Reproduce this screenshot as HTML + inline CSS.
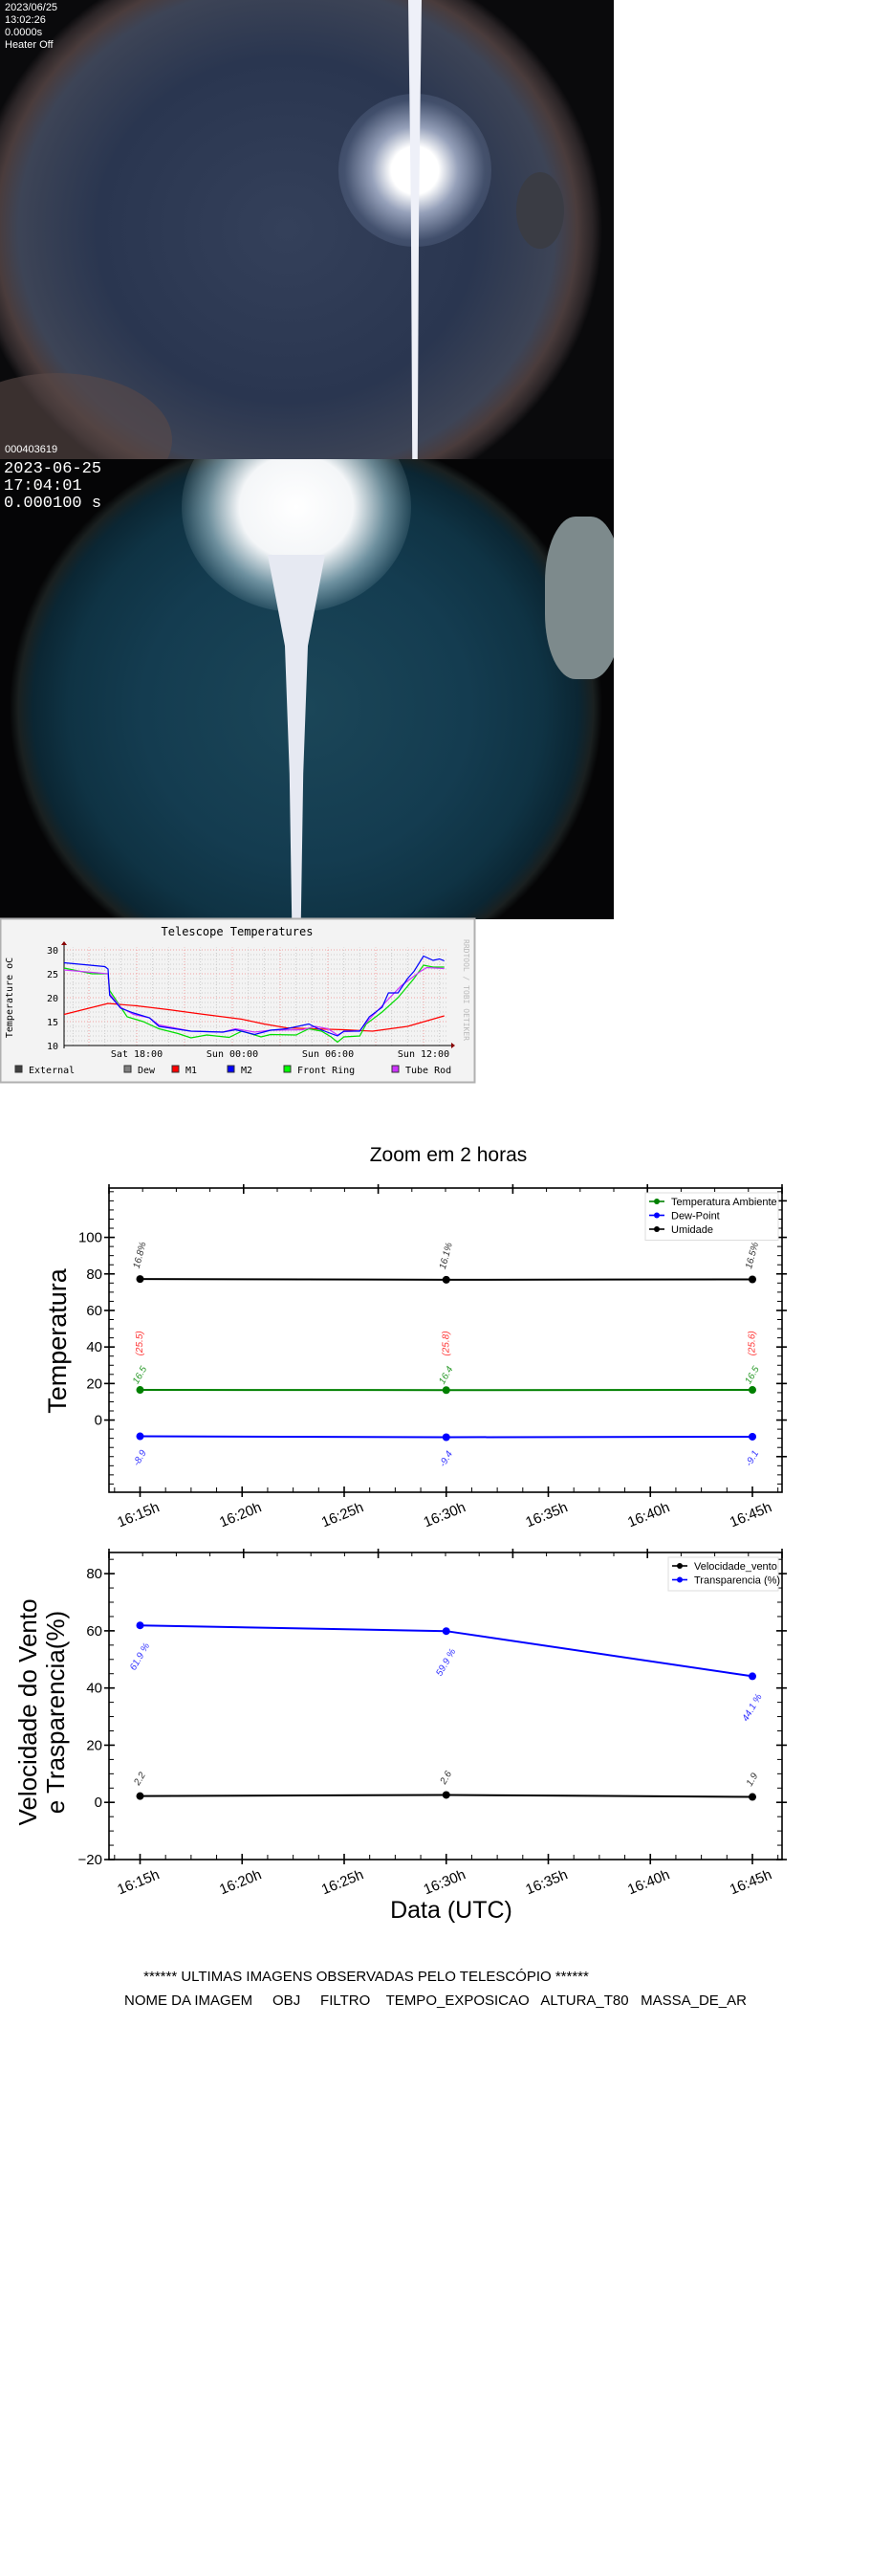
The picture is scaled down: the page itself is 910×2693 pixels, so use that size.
<!DOCTYPE html>
<html><head><meta charset="utf-8">
<style>
body{margin:0;background:#fff;width:910px;height:2693px;position:relative;overflow:hidden;font-family:"Liberation Sans",sans-serif}
.abs{position:absolute}
.photo{position:absolute;left:0;width:642px;height:480px;overflow:hidden;background:#000}
.ovl{position:absolute;color:#fff}
</style></head>
<body>
<div class="photo" style="top:0;background:radial-gradient(ellipse 330px 300px at 300px 240px,#34405a 0%,#2a3650 60%,#3d4456 85%,#4a3c3c 92%,#2a2426 97%,#0a0a0c 100%)">
  <div class="abs" style="left:-60px;top:390px;width:240px;height:140px;border-radius:50%;background:#5a4a48;opacity:.6"></div>
  <div class="abs" style="left:354px;top:98px;width:160px;height:160px;border-radius:50%;background:radial-gradient(circle,#fff 0%,#fff 22%,rgba(220,230,255,.6) 40%,rgba(150,170,210,.2) 65%,rgba(0,0,0,0) 100%)"></div>
  <div class="abs" style="left:427px;top:0;width:14px;height:480px;background:#eef0f8;clip-path:polygon(0 0,100% 0,80% 45%,70% 100%,30% 100%,20% 45%)"></div>
  <div class="abs" style="left:540px;top:180px;width:50px;height:80px;border-radius:50%;background:#3a3c44"></div>
  <div class="ovl" style="left:5px;top:2px;font-size:11px;line-height:13px">2023/06/25<br>13:02:26<br>0.0000s<br>Heater Off</div>
  <div class="ovl" style="left:5px;top:464px;font-size:11px">000403619</div>
</div>
<div class="photo" style="top:480px;height:481px;background:radial-gradient(ellipse 310px 290px at 320px 260px,#1b4658 0%,#143c50 55%,#0f3344 80%,#0b2633 92%,#1a2020 97%,#050506 100%)">
  <div class="abs" style="left:190px;top:-60px;width:240px;height:220px;border-radius:50%;background:radial-gradient(ellipse,#fff 0%,#f4f6f8 35%,rgba(200,230,240,.5) 55%,rgba(0,0,0,0) 75%)"></div>
  <div class="abs" style="left:280px;top:100px;width:60px;height:381px;background:#e6e9f2;clip-path:polygon(0 0,100% 0,70% 25%,62% 60%,58% 100%,42% 100%,38% 60%,30% 25%)"></div>
  <div class="abs" style="left:570px;top:60px;width:80px;height:170px;border-radius:40%;background:#7d8a8c"></div>
  <div class="ovl" style="left:4px;top:2px;font-family:'Liberation Mono',monospace;font-size:17px;line-height:18px">2023-06-25<br>17:04:01<br>0.000100 s</div>
</div>

<svg id="svg" width="910" height="2693" style="position:absolute;left:0;top:0" xmlns="http://www.w3.org/2000/svg"></svg>

<div class="abs" style="left:0;width:766px;top:2058px;text-align:center;font-size:15px">****** ULTIMAS IMAGENS OBSERVADAS PELO TELESCÓPIO ******</div>
<div class="abs" style="left:130px;top:2083px;font-size:15px;white-space:pre">NOME DA IMAGEM     OBJ     FILTRO    TEMPO_EXPOSICAO   ALTURA_T80   MASSA_DE_AR</div>

<script>
// ---- Telescope temperatures data (hours since Sat 12:00, value) ----
const m1H=[1.44,4.2,6,8,10,12.6,14,15.4,17,19,20.8,23,25.3];
const m1V=[16.5,18.8,18.3,17.5,16.6,15.5,14.5,13.7,13.5,13.3,13.0,14.0,16.2];
const m2H=[1.44,4.0,4.2,4.3,5.0,5.8,6.8,7.4,9.4,11.4,12.2,13.4,14.4,15.4,16.8,17.4,18.6,19,20,20.6,21.4,21.8,22.4,23,23.4,24,24.6,25,25.3];
const m2V=[27.3,26.5,26.0,20.5,17.8,16.8,15.8,14.0,13.0,12.8,13.3,12.3,13.2,13.5,14.5,13.5,12.0,13.0,13.0,16,18,21,21,24,25.5,28.7,27.8,28.1,27.7];
const frH=[1.44,3.2,4.2,4.3,5.4,6.4,7.4,8.6,9.4,10.4,11.8,12.6,13.8,14.4,16,16.8,17.6,18.2,18.6,19,20,20.4,21.4,22.4,23.4,24,24.6,25.3];
const frV=[26.2,25,25,21.5,16,15,13.5,12.5,11.6,12.2,11.7,13,11.8,12.3,12.2,13.5,13,11.8,10.7,11.8,12,14.5,17,20,24,26.8,26.4,26.4];
const trH=[1.44,4.2,4.3,5.0,5.8,6.8,7.4,9.4,11.4,12.2,13.4,14.4,16.4,17.2,18,18.6,19,20,20.6,21.6,22.6,23.8,24.2,25.3];
const trV=[25.8,25,20.8,18,16.5,15.8,14.3,13.0,12.8,13.5,12.8,13.2,13.3,14,13.5,12.2,12.9,13.1,15.5,19,22.5,25.5,26.3,26.1];
const rrdYTicks=[10,15,20,25,30];
const rrdXTicks=[6,12,18,24];
const rrdXLabels=["Sat 18:00","Sun 00:00","Sun 06:00","Sun 12:00"];
const rrdLegend=["External","Dew","M1","M2","Front Ring","Tube Rod"];
const rrdLegendColors=["#404040","#808080","#ff0000","#0000ff","#00ff00","#cc33ff"];

// ---- Chart 1 data ----
const times=[0,15,30];
const xTickMin=[0,5,10,15,20,25,30];
const xTickLabels=["16:15h","16:20h","16:25h","16:30h","16:35h","16:40h","16:45h"];
const umid=[77.2,76.8,77.0];
const umidLabels=["16.8%","16.1%","16.5%"];
const tempAmb=[16.5,16.4,16.5];
const tempLabels=["16.5","16.4","16.5"];
const tempRedLabels=["(25.5)","(25.8)","(25.6)"];
const dew=[-8.9,-9.4,-9.1];
const dewLabels=["-8.9","-9.4","-9.1"];
const y1Ticks=[0,20,40,60,80,100];
// ---- Chart 2 data ----
const transp=[61.9,59.9,44.1];
const transpLabels=["61.9 %","59.9 %","44.1 %"];
const vento=[2.2,2.6,1.9];
const ventoLabels=["2.2","2.6","1.9"];
const y2Ticks=[-20,0,20,40,60,80];

const NS="http://www.w3.org/2000/svg";
const svg=document.getElementById('svg');
function mk(tag,attrs,parent){const e=document.createElementNS(NS,tag);for(const k in attrs)e.setAttribute(k,attrs[k]);(parent||svg).appendChild(e);return e;}
function txt(s,attrs,parent){const e=mk('text',attrs,parent);e.textContent=s;return e;}

// ===== RRD chart =====
(function(){
 const g=mk('g',{});
 
 
 const bg=mk('rect',{x:0.5,y:960.5,width:496,height:171,fill:'#f3f3f3',stroke:'#b0b0b0','stroke-width':2},g);
 
 
 const X=h=>67+(h-1.44)*16.667, Y=v=>1093-(v-10)*5;
 const t=txt('Telescope Temperatures',{x:248,y:978,'text-anchor':'middle','font-family':'DejaVu Sans Mono,Liberation Mono,monospace','font-size':12},g);
 
 
 for(let v=10;v<=30;v++){mk('line',{x1:67,x2:468,y1:Y(v),y2:Y(v),stroke:v%5?'#ccc':'#f0a0a0','stroke-dasharray':'1,2','stroke-width':1},g);}
 for(let h=2;h<=25;h++){const x=X(h);if(x<68)continue;mk('line',{x1:x,x2:x,y1:Y(10),y2:Y(30.5),stroke:h%3?'#ccc':'#f0a0a0','stroke-dasharray':'1,2'},g);}
 mk('line',{x1:67,x2:472,y1:Y(10),y2:Y(10),stroke:'#000'},g);
 mk('line',{x1:67,x2:67,y1:Y(10)+3,y2:987,stroke:'#000'},g);
 mk('polygon',{points:`472,${Y(10)-3} 476,${Y(10)} 472,${Y(10)+3}`,fill:'#800'},g);
 mk('polygon',{points:`64,988 67,984 70,988`,fill:'#800'},g);
 rrdYTicks.forEach(v=>{const e=txt(String(v),{x:61,y:Y(v)+4,'text-anchor':'end','font-family':'DejaVu Sans Mono,monospace','font-size':10},g);
  });
 rrdXTicks.forEach((h,i)=>{const e=txt(rrdXLabels[i],{x:X(h),y:1105,'text-anchor':'middle','font-family':'DejaVu Sans Mono,monospace','font-size':10},g);
  });
 const yl=txt('Temperature oC',{x:0,y:0,transform:'translate(13,1043) rotate(-90)','text-anchor':'middle','font-family':'DejaVu Sans Mono,monospace','font-size':10},g);
 
 const wm=txt('RRDTOOL / TOBI OETIKER',{x:0,y:0,transform:'translate(485,1035) rotate(90)','text-anchor':'middle','font-family':'DejaVu Sans Mono,monospace','font-size':8,fill:'#bbb'},g);
 
 function series(H,V,c,name){const p=H.map((h,i)=>X(h).toFixed(1)+','+Y(V[i]).toFixed(1)).join(' ');
  const e=mk('polyline',{points:p,fill:'none',stroke:c,'stroke-width':1.2},g);
  }
 series(m1H,m1V,'#ff0000','m1-line');
 series(frH,frV,'#00dd00','front-ring-line');
 series(trH,trV,'#cc33ff','tube-rod-line');
 series(m2H,m2V,'#0000ff','m2-line');
 const lx=[16,130,180,238,297,410];
 rrdLegend.forEach((n,i)=>{
  const r=mk('rect',{x:lx[i],y:1114,width:7,height:7,fill:rrdLegendColors[i],stroke:'#333'},g);
  
  const e=txt(n,{x:lx[i]+14,y:1122,'font-family':'DejaVu Sans Mono,monospace','font-size':10},g);
  });
})();

// ===== matplotlib-like charts =====
const PL=114,PR=818,X0=146.5,PX_PER_MIN=21.35;
function frame(g,T,B,ymin,ymax,yTicks,yMinorStep){
 const L=PL,R=PR;
 const X=m=>X0+m*PX_PER_MIN;
 const Y=v=>B-(v-ymin)/(ymax-ymin)*(B-T);
 mk('rect',{x:L,y:T,width:R-L,height:B-T,fill:'none',stroke:'#000','stroke-width':1.6},g);
 for(let i=0;i<=5;i++){const x=L+i*140.8;mk('line',{x1:x,x2:x,y1:T-4,y2:T+6,stroke:'#000','stroke-width':1.6},g);}
 for(let x=L+35.2;x<R-2;x+=35.2){mk('line',{x1:x,x2:x,y1:T,y2:T+4,stroke:'#000'},g);}
 xTickMin.forEach((m,i)=>{const x=X(m);mk('line',{x1:x,x2:x,y1:B-6,y2:B+5,stroke:'#000','stroke-width':1.6},g);
  const e=txt(xTickLabels[i],{x:0,y:0,transform:`translate(${x},${B+28}) rotate(-22)`,'text-anchor':'middle','font-size':15},g);
  });
 for(let m=-1.25;m<32;m+=1.25){const x=X(m);if(x<=L+2||x>=R-2)continue;mk('line',{x1:x,x2:x,y1:B-5,y2:B,stroke:'#000'},g);}
 yTicks.forEach(v=>{const y=Y(v);mk('line',{x1:L-5,x2:L+6,y1:y,y2:y,stroke:'#000','stroke-width':1.6},g);
  mk('line',{x1:R-6,x2:R+5,y1:y,y2:y,stroke:'#000','stroke-width':1.6},g);
  const e=txt(v<0?'−'+(-v):String(v),{x:L-7,y:y+5,'text-anchor':'end','font-size':15},g);
  });
 for(let v=Math.ceil(ymin/yMinorStep)*yMinorStep;v<ymax;v+=yMinorStep){const y=Y(v);
  mk('line',{x1:L,x2:L+5,y1:y,y2:y,stroke:'#000'},g);mk('line',{x1:R-5,x2:R,y1:y,y2:y,stroke:'#000'},g);}
 return {X,Y};
}
function line(g,X,Y,vals,c,name){
 const p=times.map((t,i)=>X(t)+','+Y(vals[i])).join(' ');
 const e=mk('polyline',{points:p,fill:'none',stroke:c,'stroke-width':2},g);
 
 times.forEach((t,i)=>{const d=mk('circle',{cx:X(t),cy:Y(vals[i]),r:4,fill:c},g);
  });
}
function labels(g,X,Y,vals,labs,off,rot,c,name){
 times.forEach((t,i)=>{const e=txt(labs[i],{x:0,y:0,transform:`translate(${X(t)},${Y(vals[i]+off)}) rotate(${rot})`,'text-anchor':'middle','dominant-baseline':'middle','font-size':10,'font-style':'italic',fill:c},g);
  });
}
function legend(g,x,y,w,items){
 mk('rect',{x:x,y:y,width:w,height:items.length*14.5+6,fill:'#fff',stroke:'#ddd'},g);
 items.forEach((it,i)=>{const yy=y+9+i*14.5;
  mk('line',{x1:x+4,x2:x+20,y1:yy,y2:yy,stroke:it[1],'stroke-width':1.6},g);
  mk('circle',{cx:x+12,cy:yy,r:3,fill:it[1]},g);
  const e=txt(it[0],{x:x+27,y:yy+4,'font-size':11},g);
  });
}

(function(){
 const g=mk('g',{});
 
 
 const t=txt('Zoom em 2 horas',{x:469,y:1214,'text-anchor':'middle','font-size':21},g);
 
 const {X,Y}=frame(g,1242,1560,-39.5,127,y1Ticks,5);
 [-20,120].forEach(v=>mk('line',{x1:PR-6,x2:PR+5,y1:Y(v),y2:Y(v),stroke:'#000','stroke-width':1.6},g));
 line(g,X,Y,umid,'#000','umidade-line');
 line(g,X,Y,tempAmb,'#008000','temperatura-ambiente-line');
 line(g,X,Y,dew,'#0000ff','dew-point-line');
 labels(g,X,Y,umid,umidLabels,13,-75,'#333','umidade-value-label');
 labels(g,X,Y,tempAmb,tempRedLabels,25.5,-90,'#ff3333','temperature-red-label');
 labels(g,X,Y,tempAmb,tempLabels,8,-60,'#2a9a2a','temperatura-value-label');
 labels(g,X,Y,dew,dewLabels,-12,-60,'#3333ff','dew-point-value-label');
 const yl=txt('Temperatura',{x:0,y:0,transform:'translate(69,1402) rotate(-90)','text-anchor':'middle','font-size':27},g);
 
 legend(g,675,1247,139,[['Temperatura Ambiente','#008000'],['Dew-Point','#0000ff'],['Umidade','#000']]);
})();

(function(){
 const g=mk('g',{});
 
 
 const {X,Y}=frame(g,1623,1944,-20,87.4,y2Ticks,5);
 line(g,X,Y,vento,'#000','velocidade-vento-line');
 line(g,X,Y,transp,'#0000ff','transparencia-line');
 labels(g,X,Y,transp,transpLabels,-11,-60,'#3333ff','transparencia-value-label');
 labels(g,X,Y,vento,ventoLabels,6,-60,'#333','velocidade-value-label');
 const yl=txt('Velocidade do Vento',{x:0,y:0,transform:'translate(38,1790) rotate(-90)','text-anchor':'middle','font-size':26},g);
 
 const yl2=txt('e Trasparencia(%)',{x:0,y:0,transform:'translate(67,1790) rotate(-90)','text-anchor':'middle','font-size':26},g);
 
 const xl=txt('Data (UTC)',{x:472,y:2005,'text-anchor':'middle','font-size':25},g);
 
 legend(g,699,1628,115,[['Velocidade_vento','#000'],['Transparencia (%)','#0000ff']]);
})();
</script>
</body></html>
